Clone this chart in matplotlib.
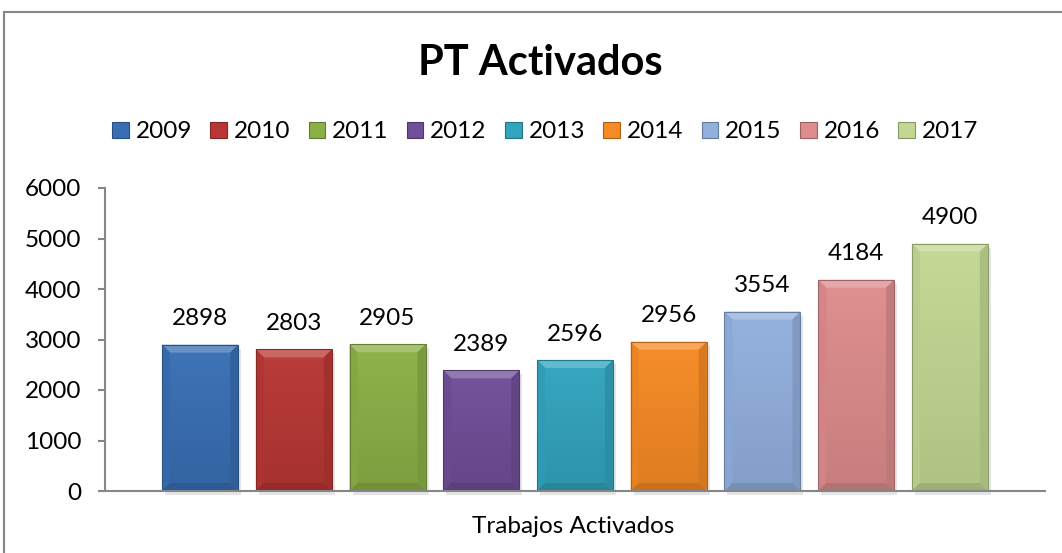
import matplotlib
matplotlib.use('Agg')
import matplotlib.pyplot as plt
import matplotlib.patches as mpatches
import matplotlib.colors as mcolors
import numpy as np

plt.rcParams['font.family'] = ['Lato', 'DejaVu Sans']

# data
years = ['2009', '2010', '2011', '2012', '2013', '2014', '2015', '2016', '2017']
values = [2898, 2803, 2905, 2389, 2596, 2956, 3554, 4184, 4900]
colors = ['#386FB4', '#B83734', '#8CB046', '#704E98', '#32A4BE',
          '#F68A24', '#92B0DE', '#DE8C8C', '#C2D892']
yticks = [0, 1000, 2000, 3000, 4000, 5000, 6000]
title = 'PT Activados'
xlabel = 'Trabajos Activados'

GRAY = '#868686'
W, H = 1062, 553
FS = 17.5


def shade(c, f):
    r = np.array(mcolors.to_rgb(c))
    if f >= 1:
        r = r + (1 - r) * (f - 1)
    else:
        r = r * f
    return tuple(np.clip(r, 0, 1))


fig = plt.figure(figsize=(W / 100, H / 100), dpi=100)

# chart border (left / top visible, rest cut off)
fig.patches.append(mpatches.Rectangle((4 / W, -0.1), 1.2, 1 - 12 / H + 0.1,
                                      transform=fig.transFigure, fill=False,
                                      edgecolor=GRAY, lw=1.5))

ax = fig.add_axes([105 / W, (H - 491) / H, 940 / W, 303 / H])
ax.set_xlim(-1.015, 9.015)
ax.set_ylim(0, 6000)

xs = np.arange(len(years))
bars = ax.bar(xs, values, width=0.81, color=colors, zorder=2)

# shadow, vertical shading and bevel derived from each bar
px_x = 940 / (ax.get_xlim()[1] - ax.get_xlim()[0])
px_y = 303 / 6000.0
bx, by = 8 / px_x, 8 / px_y
sx, sy = 3 / px_x, 4 / px_y
grad = np.linspace(0, 1, 64).reshape(-1, 1)
for rect, c in zip(bars, colors):
    x0, w, h = rect.get_x(), rect.get_width(), rect.get_height()
    x1 = x0 + w
    ax.add_patch(mpatches.Rectangle((x0 + sx, -sy), w, h, color='#000000',
                                    alpha=0.10, lw=0, zorder=1, clip_on=False))
    cm = mcolors.LinearSegmentedColormap.from_list(
        'g', [shade(c, 0.9), shade(c, 1.03)])
    im = ax.imshow(grad, extent=(x0, x1, 0, h), aspect='auto', cmap=cm,
                   zorder=2.5, origin='lower')
    im.set_clip_path(rect)
    polys = [
        ([(x0, h), (x1, h), (x1 - bx, h - by), (x0 + bx, h - by)], shade(c, 1.28)),
        ([(x0, 0), (x0, h), (x0 + bx, h - by), (x0 + bx, by)], shade(c, 0.95)),
        ([(x1, 0), (x1, h), (x1 - bx, h - by), (x1 - bx, by)], shade(c, 0.86)),
        ([(x0, 0), (x1, 0), (x1 - bx, by), (x0 + bx, by)], shade(c, 0.8)),
    ]
    for pts, fc in polys:
        ax.add_patch(mpatches.Polygon(pts, closed=True, facecolor=fc,
                                      edgecolor='none', zorder=3, alpha=0.85))
    ax.add_patch(mpatches.Rectangle((x0, 0), w, h, fill=False,
                                    edgecolor=shade(c, 0.72), lw=0.8, zorder=4))
ax.set_xlim(-1.015, 9.015)
ax.set_ylim(0, 6000)

ax.bar_label(bars, labels=[str(v) for v in values], padding=11,
             fontsize=FS, color='black')

for s in ['top', 'right']:
    ax.spines[s].set_visible(False)
for s in ['left', 'bottom']:
    ax.spines[s].set_color(GRAY)
    ax.spines[s].set_linewidth(1.5)
    ax.spines[s].set_zorder(5)
ax.set_xticks([])
ax.set_yticks(yticks)
ax.tick_params(axis='y', length=5, width=1.5, color=GRAY, labelsize=FS,
               pad=12, labelcolor='black')

fig.text(540 / W, 1 - 75 / H, title, ha='center', va='baseline',
         fontsize=30, fontweight='bold')
fig.text(573 / W, 1 - 533 / H, xlabel, ha='center', va='baseline',
         fontsize=17.5)

handles = [mpatches.Patch(facecolor=c, edgecolor=shade(c, 0.7), lw=0.8)
           for c in colors]
fig.legend(handles, years, loc='center', bbox_to_anchor=(545 / W, 1 - 132 / H),
           ncol=9, frameon=False, fontsize=FS, handlelength=0.68,
           handleheight=0.68, handletextpad=0.28, columnspacing=0.76,
           borderaxespad=0, borderpad=0)

fig.savefig('out.png', dpi=100)
